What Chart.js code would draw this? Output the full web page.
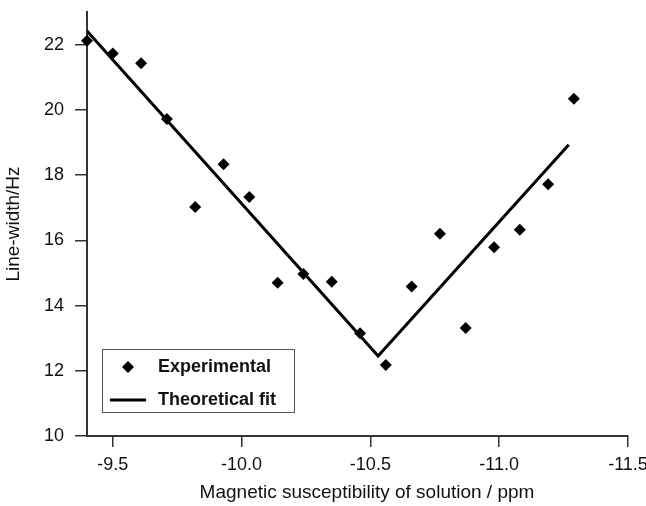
<!DOCTYPE html>
<html>
<head>
<meta charset="utf-8">
<script src="https://cdn.jsdelivr.net/npm/chart.js@4.4.1/dist/chart.umd.min.js"></script>
<style>
  body { margin: 0; background: #fff; }
</style>
</head>
<body>
<canvas id="myChart" width="646" height="506"></canvas>
<script>
let expX = [-9.40, -9.50, -9.61, -9.71, -9.82, -9.93, -10.03, -10.14, -10.24, -10.35,
            -10.46, -10.56, -10.66, -10.77, -10.87, -10.98, -11.08, -11.19, -11.29]
let expY = [22.12, 21.73, 21.43, 19.72, 17.02, 18.33, 17.33, 14.70, 14.97, 14.73,
            13.15, 12.18, 14.58, 16.20, 13.31, 15.79, 16.32, 17.72, 20.34]
let fitX = [-9.40, -10.53, -11.27]
let fitY = [22.42, 12.45, 18.93]
let xTicks = [-9.5, -10.0, -10.5, -11.0, -11.5]
let yTicks = [10, 12, 14, 16, 18, 20, 22]
let xTitle = "Magnetic susceptibility of solution / ppm"
let yTitle = "Line-width/Hz"

let fontFamily = "'Liberation Sans', Arial, Helvetica, sans-serif"
Chart.defaults.font.family = fontFamily
Chart.defaults.color = '#111'

function diamond(ctx, x, y, r){
    ctx.beginPath()
    ctx.moveTo(x, y - r)
    ctx.lineTo(x + r, y)
    ctx.lineTo(x, y + r)
    ctx.lineTo(x - r, y)
    ctx.closePath()
    ctx.fill()
}

// legend box and axis titles drawn on top
let extras = {
    id: 'extras',
    afterDraw(chart){
        let ctx = chart.ctx
        let ds = chart.data.datasets
        ctx.save()
        ctx.strokeStyle = '#555'
        ctx.lineWidth = 1
        ctx.strokeRect(102.5, 349.5, 192, 63)
        ctx.fillStyle = '#000'
        diamond(ctx, 128, 367, 6)
        ctx.strokeStyle = '#000'
        ctx.lineWidth = 3
        ctx.beginPath()
        ctx.moveTo(110, 400)
        ctx.lineTo(146, 400)
        ctx.stroke()
        ctx.font = 'bold 18px ' + fontFamily
        ctx.textBaseline = 'middle'
        ctx.textAlign = 'left'
        ctx.fillStyle = '#111'
        ctx.fillText(ds[0].label, 158, 367)
        ctx.fillText(ds[1].label, 158, 400)

        ctx.font = '19px ' + fontFamily
        ctx.textAlign = 'center'
        ctx.fillText(xTitle, 367, 493)
        ctx.translate(14, 224)
        ctx.rotate(-Math.PI / 2)
        ctx.fillText(yTitle, 0, 0)
        ctx.restore()
    }
}

let c = new Chart(document.getElementById('myChart'), {
    type: 'scatter',
    data: {
        datasets: [{
            label: 'Experimental',
            data: expX.map((v, i) => ({x: v, y: expY[i]})),
            pointStyle: 'rectRot',
            pointRadius: 6,
            backgroundColor: '#000',
            borderColor: '#000',
            borderWidth: 0,
            clip: false
        }, {
            label: 'Theoretical fit',
            data: fitX.map((v, i) => ({x: v, y: fitY[i]})),
            showLine: true,
            pointRadius: 0,
            borderColor: '#000',
            borderWidth: 3
        }]
    },
    options: {
        responsive: false,
        animation: false,
        layout: {
            padding: {left: 0, top: 12, right: 18, bottom: 0}
        },
        plugins: {
            legend: {display: false},
            tooltip: {enabled: false}
        },
        scales: {
            x: {
                type: 'linear',
                reverse: true,
                min: -11.5,
                max: -9.4,
                afterBuildTicks: s => { s.ticks = xTicks.map(v => ({value: v})) },
                afterFit: s => { s.height = 70; s.paddingLeft = 0; s.paddingRight = 0 },
                ticks: {
                    font: {size: 18},
                    padding: 7,
                    maxRotation: 0,
                    callback: v => v.toFixed(1)
                },
                grid: {
                    drawOnChartArea: false,
                    tickLength: 11,
                    color: '#333',
                    lineWidth: 1.5
                },
                border: {color: '#333', width: 2}
            },
            y: {
                min: 10,
                max: 23,
                afterBuildTicks: s => { s.ticks = yTicks.map(v => ({value: v})) },
                afterFit: s => { s.width = 87; s.paddingTop = 0; s.paddingBottom = 0 },
                ticks: {
                    font: {size: 18},
                    padding: 11
                },
                grid: {
                    drawOnChartArea: false,
                    tickLength: 12,
                    color: '#333',
                    lineWidth: 1.5
                },
                border: {color: '#333', width: 2}
            }
        }
    },
    plugins: [extras]
})
</script>
</body>
</html>
